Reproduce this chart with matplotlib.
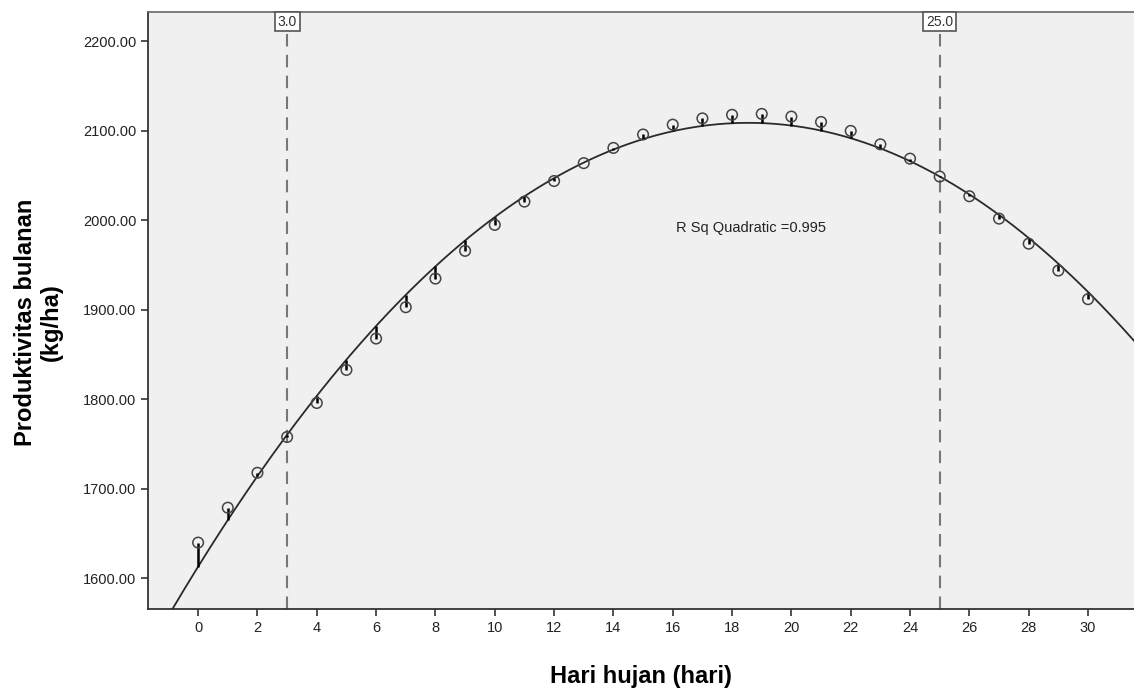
import numpy as np
import matplotlib.pyplot as plt

days = np.arange(0, 31)
productivity = [1640, 1679, 1718, 1758, 1796, 1833, 1868, 1903, 1935, 1966,
                1995, 2021, 2044, 2064, 2081, 2096, 2107, 2114, 2118, 2119,
                2116, 2110, 2100, 2085, 2069, 2049, 2027, 2002, 1974, 1944,
                1912]
ref_lines = [3.0, 25.0]
x_ticks = list(range(0, 31, 2))
y_ticks = [1600, 1700, 1800, 1900, 2000, 2100, 2200]

plt.rcParams['font.family'] = ['Liberation Sans', 'DejaVu Sans']

y = np.array(productivity, dtype=float)
coef = np.polyfit(days, y, 2)
fitted = np.polyval(coef, days)
r2 = 1 - np.sum((y - fitted) ** 2) / np.sum((y - y.mean()) ** 2)

fig = plt.figure(figsize=(11.34, 6.99), dpi=100)
ax = fig.add_axes([0.1305, 0.129, 0.8695, 0.854])
ax.set_facecolor('#f0f0f0')

xlim = (-1.69, 31.55)
ylim = (1566, 2233)

xs = np.linspace(xlim[0], xlim[1], 400)
ax.plot(xs, np.polyval(coef, xs), color='#2a2a2a', lw=1.3, zorder=3)

# residual lines from points to the fit
ax.vlines(days, fitted, y, color='black', lw=1.8, zorder=4)
ax.scatter(days, y, s=58, facecolors='none', edgecolors='#444444', linewidths=1.1, zorder=5)

for v in ref_lines:
    ax.axvline(v, color='#777777', lw=1.5, ls=(0, (6, 4)), zorder=2)
    ax.text(v, ylim[1] - 3, f'{v:.1f}', ha='center', va='top', fontsize=10, color='#333333',
            bbox=dict(boxstyle='square,pad=0.2', fc='white', ec='#555555', lw=1.2), zorder=6)

ax.text(16.1, 1992, f'R Sq Quadratic ={r2:.3f}', fontsize=10.5, color='#222222', va='center')

ax.set_xlim(*xlim)
ax.set_ylim(*ylim)
ax.set_xticks(x_ticks)
ax.set_yticks(y_ticks)
ax.set_yticklabels([f'{t:.2f}' for t in y_ticks])
ax.tick_params(labelsize=10.5, length=5, width=1.2, color='#333333', labelcolor='#222222')

for s in ['left', 'bottom']:
    ax.spines[s].set_color('#333333')
    ax.spines[s].set_linewidth(1.3)
ax.spines['top'].set_color('#666666')
ax.spines['top'].set_linewidth(1.2)
ax.spines['right'].set_visible(False)

ax.set_xlabel('Hari hujan (hari)', fontsize=17, fontweight='bold', labelpad=22)
ax.set_ylabel('Produktivitas bulanan\n(kg/ha)', fontsize=17, fontweight='bold')
ax.yaxis.set_label_coords(-0.086, 0.48)

fig.savefig('out.png', dpi=100)
